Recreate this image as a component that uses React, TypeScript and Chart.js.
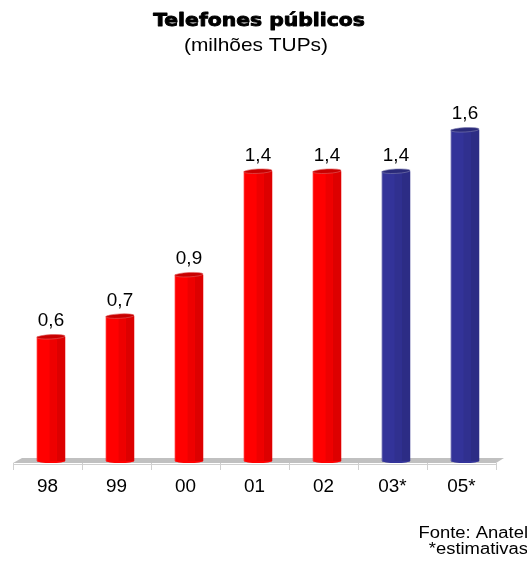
import React, { useEffect, useRef } from "react";
import { Chart, registerables } from "chart.js";

Chart.register(...registerables);

const categories = ["98", "99", "00", "01", "02", "03*", "05*"];
const values = [0.6, 0.7, 0.9, 1.4, 1.4, 1.4, 1.6];
const valueLabels = ["0,6", "0,7", "0,9", "1,4", "1,4", "1,4", "1,6"];
const isEstimate = [false, false, false, false, false, true, true];
const titleText = "Telefones públicos";
const subtitleText = "(milhões TUPs)";
const footLines = ["Fonte: Anatel", "*estimativas"];

const FONT = '"Liberation Sans", Arial, sans-serif';

const W = 527;
const H = 563;

function drawText(ctx: any, text: string, x: number, y: number, font: string, sx: number, align: string, stroke = 0) {
  ctx.save();
  ctx.font = font;
  ctx.textAlign = align;
  ctx.textBaseline = "alphabetic";
  ctx.translate(x, y);
  ctx.scale(sx, 1);
  ctx.fillText(text, 0, 0);
  if (stroke > 0) {
    ctx.lineWidth = stroke;
    ctx.strokeStyle = ctx.fillStyle;
    ctx.lineJoin = "round";
    ctx.strokeText(text, 0, 0);
  }
  ctx.restore();
}

const deco = {
  id: "deco",
  beforeDatasetsDraw(chart: any) {
    const { ctx, chartArea } = chart;
    const xs = chart.scales.x;
    const step = xs.getPixelForValue(1) - xs.getPixelForValue(0);
    const shift = 3.5;
    const l = chartArea.left - shift;
    const r = chartArea.right - shift;
    const b = chartArea.bottom + 2;
    ctx.save();
    // floor
    ctx.fillStyle = "#C0C0C0";
    ctx.beginPath();
    ctx.moveTo(l, b);
    ctx.lineTo(r, b);
    ctx.lineTo(r + 8, b - 5);
    ctx.lineTo(l + 9, b - 5);
    ctx.closePath();
    ctx.fill();
    // axis line and ticks
    ctx.strokeStyle = "#D0D0D0";
    ctx.lineWidth = 1;
    ctx.beginPath();
    ctx.moveTo(l, b + 1.5);
    ctx.lineTo(r, b + 1.5);
    for (let i = 0; i <= categories.length; i++) {
      const x = Math.round(l + i * step) + 0.5;
      ctx.moveTo(x, b);
      ctx.lineTo(x, b + 7);
    }
    ctx.stroke();
    // category labels
    ctx.fillStyle = "#000";
    categories.forEach((c, i) => {
      drawText(ctx, c, xs.getPixelForValue(i) - shift, 492, `18px ${FONT}`, 1.05, "center");
    });
    // title
    drawText(ctx, titleText, 259, 26, `bold 18px "DejaVu Sans", sans-serif`, 1.13, "center", 0.9);
    drawText(ctx, subtitleText, 256, 51, `19px ${FONT}`, 1.1, "center");
    // footnote
    drawText(ctx, footLines[0], 528, 538, `16px ${FONT}`, 1.15, "right");
    drawText(ctx, footLines[1], 528, 554, `16px ${FONT}`, 1.15, "right");
    ctx.restore();
  },
  afterDatasetsDraw(chart: any) {
    const { ctx } = chart;
    const meta = chart.getDatasetMeta(0);
    ctx.save();
    meta.data.forEach((bar: any, i: number) => {
      const { x, y, base, width } = bar.getProps(["x", "y", "base", "width"], true);
      const left = x - width / 2;
      const est = isEstimate[i];
      // darker right part
      ctx.fillStyle = est ? "#2C2C85" : "#DD0000";
      ctx.fillRect(x + width * 0.2, y, width * 0.3, base - y);
      ctx.fillStyle = est ? "#30308F" : "#EE0000";
      ctx.fillRect(x - width * 0.05, y, width * 0.25, base - y);
      // left highlight edge
      ctx.fillStyle = est ? "#5a5aa8" : "#FF2020";
      ctx.fillRect(left, y, 1, base - y);
      // top cap
      ctx.fillStyle = est ? "#2A2A7A" : "#C80000";
      ctx.beginPath();
      ctx.ellipse(x, y, width / 2, 2.2, -0.05, 0, Math.PI * 2);
      ctx.fill();
      ctx.strokeStyle = est ? "#8080b0" : "#E06060";
      ctx.lineWidth = 0.6;
      ctx.stroke();
      // bottom round
      ctx.fillStyle = est ? "#333399" : "#FF0000";
      ctx.beginPath();
      ctx.ellipse(x, base, width / 2, 2, 0, 0, Math.PI);
      ctx.fill();
      // value label
      ctx.fillStyle = "#000";
      drawText(ctx, valueLabels[i], x, y - 10.5, `18px ${FONT}`, 1.05, "center");
    });
    ctx.restore();
  },
};

export default function App() {
  const ref = useRef<HTMLCanvasElement | null>(null);
  useEffect(() => {
    if (!ref.current) return;
    const yMax = 1.8;
    const bottom = 461;
    const perUnit = 207;
    const top = bottom - yMax * perUnit;
    const chart = new Chart(ref.current, {
      type: "bar",
      data: {
        labels: categories,
        datasets: [
          {
            data: values,
            backgroundColor: isEstimate.map((e) => (e ? "#333399" : "#FF0000")),
            borderWidth: 0,
            categoryPercentage: 1,
            barPercentage: 0.41,
          },
        ],
      },
      options: {
        responsive: false,
        animation: false,
        events: [],
        layout: { padding: { left: 16.5, right: W - 499.5, top: top, bottom: H - bottom } },
        scales: {
          x: { display: false },
          y: { display: false, min: 0, max: yMax },
        },
        plugins: {
          legend: { display: false },
          tooltip: { enabled: false },
          title: { display: false },
        },
      },
      plugins: [deco],
    });
    return () => chart.destroy();
  }, []);
  return (
    <div style={{ position: "fixed", left: 0, top: 0, width: W, height: H, background: "#fff" }}>
      <canvas ref={ref} width={W} height={H} style={{ width: W, height: H, display: "block" }} />
    </div>
  );
}
